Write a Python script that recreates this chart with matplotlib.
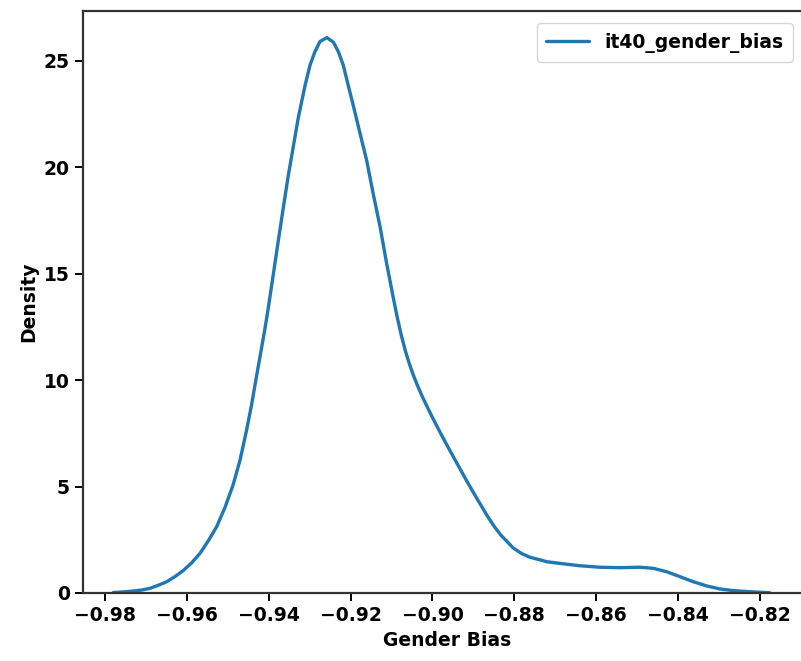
import matplotlib
matplotlib.use("Agg")
import matplotlib.pyplot as plt

# density curve of the gender bias scores (iteration 40)
bias = [-0.9780, -0.9755, -0.9731, -0.9710, -0.9690, -0.9670, -0.9649, -0.9629,
        -0.9609, -0.9588, -0.9568, -0.9548, -0.9527, -0.9507, -0.9487, -0.9470,
        -0.9454, -0.9442, -0.9430, -0.9419, -0.9409, -0.9401, -0.9389, -0.9377,
        -0.9364, -0.9352, -0.9340, -0.9328, -0.9311, -0.9299, -0.9287, -0.9275,
        -0.9258, -0.9242, -0.9230, -0.9218, -0.9206, -0.9194, -0.9177, -0.9161,
        -0.9145, -0.9128, -0.9112, -0.9096, -0.9086, -0.9076, -0.9066, -0.9056,
        -0.9046, -0.9036, -0.9026, -0.9016, -0.9002, -0.8980, -0.8959, -0.8937,
        -0.8915, -0.8890, -0.8866, -0.8850, -0.8833, -0.8803, -0.8782, -0.8762,
        -0.8738, -0.8721, -0.8689, -0.8640, -0.8591, -0.8542, -0.8493, -0.8461,
        -0.8428, -0.8396, -0.8363, -0.8330, -0.8298, -0.8265, -0.8216, -0.8176]
density = [0.02, 0.05, 0.09, 0.14, 0.22, 0.36, 0.53, 0.77,
           1.05, 1.42, 1.86, 2.44, 3.12, 4.01, 5.08, 6.25,
           7.66, 8.83, 10.16, 11.35, 12.45, 13.40, 14.95, 16.50,
           18.15, 19.64, 20.97, 22.31, 23.87, 24.81, 25.44, 25.91,
           26.10, 25.88, 25.44, 24.81, 23.87, 22.95, 21.60, 20.35,
           18.78, 17.21, 15.49, 13.90, 12.95, 12.10, 11.36, 10.74,
           10.20, 9.72, 9.28, 8.87, 8.32, 7.50, 6.75, 5.98,
           5.22, 4.39, 3.62, 3.15, 2.72, 2.12, 1.85, 1.68,
           1.56, 1.47, 1.39, 1.28, 1.21, 1.19, 1.21, 1.16,
           1.00, 0.77, 0.53, 0.33, 0.19, 0.11, 0.05, 0.01]
label = "it40_gender_bias"

plt.rcParams['font.family'] = ['DejaVu Sans']
plt.rcParams['font.weight'] = 'bold'
plt.rcParams['font.size'] = 13.5

fig = plt.figure(figsize=(8.01, 6.61), dpi=100)
ax = fig.add_axes([0.1036, 0.1029, 0.91, 0.8805])

ax.plot(bias, density, color='#1f77b4', lw=2.4, label=label,
        solid_joinstyle='round', solid_capstyle='round')

ax.set_xlim(-0.98537, -0.80732)
ax.set_ylim(0, 27.35)
ax.set_xticks([-0.98, -0.96, -0.94, -0.92, -0.90, -0.88, -0.86, -0.84, -0.82])
ax.set_yticks([0, 5, 10, 15, 20, 25])
ax.set_xlabel('Gender Bias', fontweight='bold')
ax.set_ylabel('Density', fontweight='bold')
ax.tick_params(length=6, width=1.4, labelsize=13.5)
for s in ax.spines.values():
    s.set_linewidth(1.6)
    s.set_color('#333333')
# the frame runs past the right edge of the canvas
ax.spines['right'].set_visible(False)

ax.legend(loc='upper right', bbox_to_anchor=(0.974, 0.979), borderaxespad=0,
          borderpad=0.5, handlelength=2.3, handletextpad=0.8)

fig.savefig('out.png', dpi=100)
